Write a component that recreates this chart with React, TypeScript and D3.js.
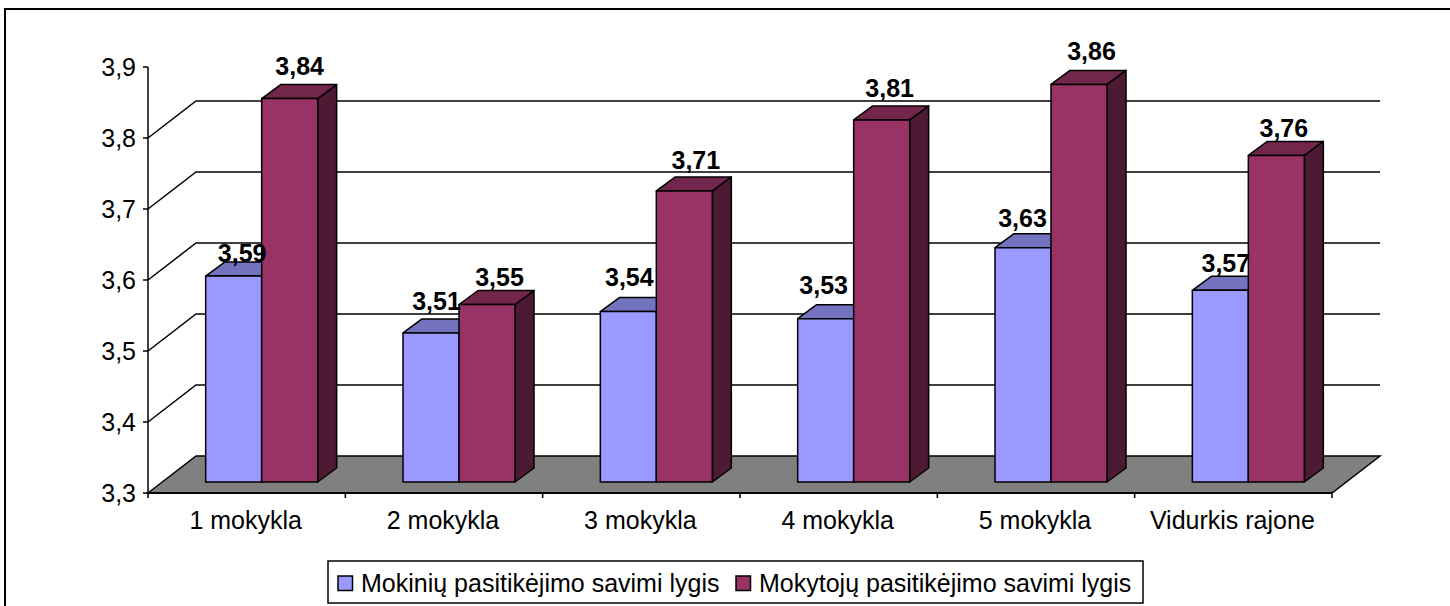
import React from "react";
import * as d3 from "d3";

const categories = ["1 mokykla", "2 mokykla", "3 mokykla", "4 mokykla", "5 mokykla", "Vidurkis rajone"];
const mokiniai = [3.59, 3.51, 3.54, 3.53, 3.63, 3.57];
const mokytojai = [3.84, 3.55, 3.71, 3.81, 3.86, 3.76];
const yTicks = [3.3, 3.4, 3.5, 3.6, 3.7, 3.8, 3.9];
const gridTicks = [3.4, 3.5, 3.6, 3.7, 3.8];
const seriesNames = ["Mokinių pasitikėjimo savimi lygis", "Mokytojų pasitikėjimo savimi lygis"];

// hand placed label shifts, the original chart does not set them evenly
const labelShift = [
  [[-1, 8], [-4, -1], [-8.5, -3.5], [-11.5, -3], [-10, 1], [-4, 4]],
  [[0.5, -1.5], [3, 3.5], [2, 0], [-1.5, -1], [3, -2.4], [-2, 4]],
];

const width = 1450;
const height = 606;
const font = "'Liberation Sans', Arial, sans-serif";
const fontSize = 25;

// fake 3d offsets
const wallDx = 48;
const wallDy = -37;
const planeDx = 15;
const planeDy = -11;
const barDx = 19;
const barDy = -14;
const barW = 56;

const colors = [
  { front: "#9999ff", top: "#7373bf", side: "#4d4d80" },
  { front: "#993366", top: "#73264c", side: "#4d1933" },
];

const comma = (v: number, digits: number) => d3.format("." + digits + "f")(v).replace(".", ",");

export default function App() {
  const x = d3.scaleBand().domain(categories).range([148, 1332]);
  const y = d3.scaleLinear().domain([3.3, 3.9]).range([493, 67]);
  const x0 = x.range()[0];
  const x1 = x.range()[1];
  const y0 = y(3.3);

  const floor = d3.line()([
    [x0, y0],
    [x0 + wallDx, y0 + wallDy],
    [x1 + wallDx, y0 + wallDy],
    [x1, y0],
  ]) + "Z";

  const barLeft = (cat: string, s: number) => x(cat)! + x.bandwidth() / 2 + planeDx - barW + s * barW;

  const drawBar = (cat: string, v: number, s: number) => {
    const left = barLeft(cat, s);
    const top = y(v) + planeDy;
    const bottom = y0 + planeDy;
    const right = left + barW;
    const c = colors[s];
    return (
      <g key={cat + s} stroke="#000" strokeWidth={1.5} strokeLinejoin="round">
        <path
          d={d3.line()([[right, top], [right + barDx, top + barDy], [right + barDx, bottom + barDy], [right, bottom]]) + "Z"}
          fill={c.side}
        />
        <path
          d={d3.line()([[left, top], [left + barDx, top + barDy], [right + barDx, top + barDy], [right, top]]) + "Z"}
          fill={c.top}
        />
        <rect x={left} y={top} width={barW} height={bottom - top} fill={c.front} />
      </g>
    );
  };

  const drawLabel = (cat: string, v: number, s: number, i: number) => (
    <text
      key={"l" + cat + s}
      x={barLeft(cat, s) + barW / 2 + barDx / 2 + labelShift[s][i][0]}
      y={y(v) + planeDy + barDy - 8 + labelShift[s][i][1]}
      textAnchor="middle"
      fontSize={fontSize}
      fontWeight="bold"
      fill="#000"
    >
      {comma(v, 2)}
    </text>
  );

  return (
    <svg
      width={width}
      height={height}
      fontFamily={font}
      style={{ position: "fixed", left: 0, top: 0, background: "#fff" }}
    >
      {/* outer frame */}
      <rect x={5} y={9} width={width + 10} height={height + 10} fill="#fff" stroke="#000" strokeWidth={2} />

      {/* gridlines */}
      {gridTicks.map((t) => (
        <path
          key={t}
          d={d3.line()([[x0, y(t)], [x0 + wallDx, y(t) + wallDy], [x1 + wallDx, y(t) + wallDy]])!}
          fill="none"
          stroke="#000"
          strokeWidth={1.5}
        />
      ))}

      <path d={floor} fill="#808080" stroke="#000" strokeWidth={1.5} />

      {/* y axis */}
      <line x1={x0} x2={x0} y1={y(3.9)} y2={y0} stroke="#000" strokeWidth={1.5} />
      {yTicks.map((t) => (
        <g key={t}>
          <line x1={x0 - 5} x2={x0} y1={y(t)} y2={y(t)} stroke="#000" strokeWidth={1.5} />
          <text x={136} y={y(t) + 8.5} textAnchor="end" fontSize={fontSize} fill="#000">
            {comma(t, 1)}
          </text>
        </g>
      ))}

      {/* x axis */}
      <line x1={x0} x2={x1} y1={y0} y2={y0} stroke="#000" strokeWidth={2} />
      {categories.concat("").map((c, i) => {
        const px = x0 + i * x.bandwidth();
        return <line key={i} x1={px} x2={px} y1={y0} y2={y0 + 5} stroke="#000" strokeWidth={1.5} />;
      })}
      {categories.map((c) => (
        <text key={c} x={x(c)! + x.bandwidth() / 2 - 1} y={528.5} textAnchor="middle" fontSize={fontSize} fill="#000">
          {c}
        </text>
      ))}

      {/* bars */}
      {categories.map((c, i) => drawBar(c, mokiniai[i], 0))}
      {categories.map((c, i) => drawBar(c, mokytojai[i], 1))}
      {categories.map((c, i) => drawLabel(c, mokiniai[i], 0, i))}
      {categories.map((c, i) => drawLabel(c, mokytojai[i], 1, i))}

      {/* legend */}
      <rect x={328} y={561} width={815} height={42} fill="#fff" stroke="#000" strokeWidth={1.5} />
      <rect x={338} y={576} width={14.5} height={14.5} fill={colors[0].front} stroke="#000" strokeWidth={1.5} />
      <text x={361} y={592} fontSize={fontSize} fill="#000">{seriesNames[0]}</text>
      <rect x={736} y={576} width={14.5} height={14.5} fill={colors[1].front} stroke="#000" strokeWidth={1.5} />
      <text x={759} y={592} fontSize={fontSize} fill="#000">{seriesNames[1]}</text>
    </svg>
  );
}
